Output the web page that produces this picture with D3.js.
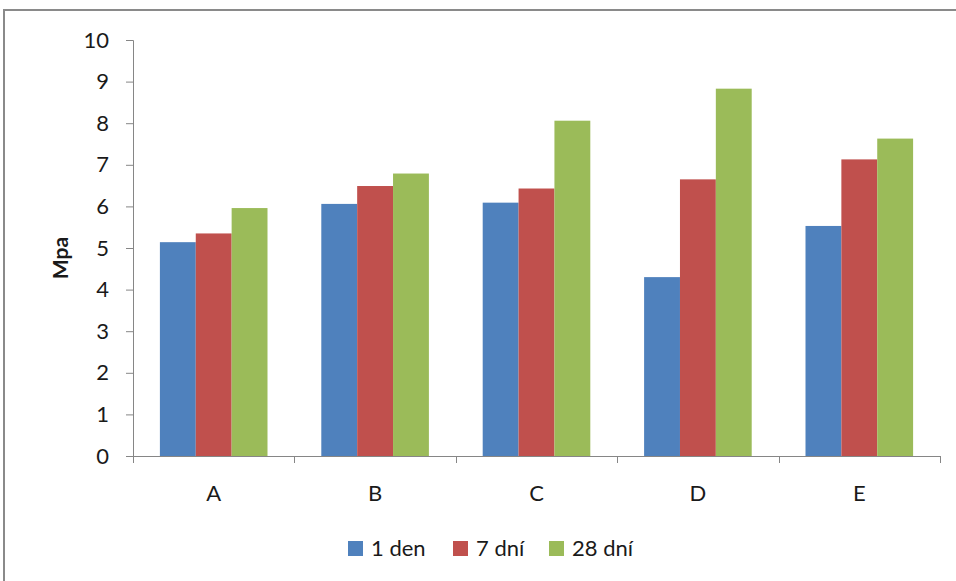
<!DOCTYPE html>
<html>
<head>
<meta charset="utf-8">
<script src="https://cdn.jsdelivr.net/npm/d3@7/dist/d3.min.js"></script>
<style>
  html, body { margin: 0; padding: 0; background: #fff; }
  svg { display: block; }
  text { font-family: Lato, "Open Sans", "Liberation Sans", sans-serif; fill: #1a1a1a; }
</style>
</head>
<body>
<svg id="chart" width="956" height="581"></svg>
<script>
// Compressive strength by mixture, measured at three ages
const categories = ["A", "B", "C", "D", "E"];
const seriesNames = ["1 den", "7 dní", "28 dní"];
const den1  = [5.14, 6.06, 6.09, 4.30, 5.53];
const dni7  = [5.35, 6.49, 6.43, 6.65, 7.13];
const dni28 = [5.96, 6.79, 8.06, 8.83, 7.63];
const yTicks = [0, 1, 2, 3, 4, 5, 6, 7, 8, 9, 10];
const colors = ["#4F81BD", "#C0504D", "#9BBB59"];

const seriesValues = [den1, dni7, dni28];
const rows = categories.map((c, i) => ({
  cat: c,
  vals: seriesNames.map((s, j) => ({ key: s, value: seriesValues[j][i], j }))
}));

const svg = d3.select("#chart");
const axisColor = "#868686";

// outer chart frame
svg.append("rect")
  .attr("x", 4).attr("y", 10)
  .attr("width", 1000).attr("height", 700)
  .attr("fill", "none").attr("stroke", "#8a8a8a").attr("stroke-width", 2);

const plot = { left: 133, right: 940, top: 40, bottom: 456 };

const y = d3.scaleLinear().domain([0, 10]).range([plot.bottom, plot.top]);
const x0 = d3.scaleBand().domain(categories).range([plot.left, plot.right]).paddingInner(0).paddingOuter(0);
const x1 = d3.scaleBand().domain(seriesNames).range([0, x0.bandwidth()]).paddingInner(0).paddingOuter(0.75);

// bars
const groups = svg.append("g").selectAll("g")
  .data(rows).join("g")
  .attr("transform", d => `translate(${x0(d.cat)},0)`);

groups.selectAll("rect")
  .data(d => d.vals).join("rect")
  .attr("x", d => x1(d.key))
  .attr("y", d => y(d.value))
  .attr("width", x1.bandwidth())
  .attr("height", d => y(0) - y(d.value))
  .attr("fill", d => colors[d.j]);

// y axis
const yAxis = svg.append("g")
  .attr("transform", `translate(${plot.left},0)`)
  .call(d3.axisLeft(y).tickValues(yTicks).tickFormat(d3.format("d")).tickSize(7).tickPadding(17));
yAxis.select(".domain").attr("stroke", axisColor);
yAxis.selectAll(".tick line").attr("stroke", axisColor);
yAxis.selectAll(".tick text").attr("font-size", 22).style("fill", "#1a1a1a");

// x axis: baseline with ticks between categories
const xg = svg.append("g");
xg.append("line")
  .attr("x1", plot.left).attr("x2", plot.right)
  .attr("y1", y(0) + 0.5).attr("y2", y(0) + 0.5)
  .attr("stroke", axisColor);
const boundaries = categories.map(c => x0(c)).concat([x0(categories[categories.length - 1]) + x0.bandwidth()]);
xg.selectAll("line.tick").data(boundaries).join("line")
  .attr("class", "tick")
  .attr("x1", d => Math.round(d) + 0.5).attr("x2", d => Math.round(d) + 0.5)
  .attr("y1", y(0)).attr("y2", y(0) + 7)
  .attr("stroke", axisColor);
xg.selectAll("text").data(categories).join("text")
  .attr("x", d => x0(d) + x0.bandwidth() / 2)
  .attr("y", 501)
  .attr("text-anchor", "middle")
  .attr("font-size", 22)
  .text(d => d);

// y axis title
svg.append("text")
  .attr("transform", `translate(68,${(plot.top + plot.bottom) / 2 + 10}) rotate(-90)`)
  .attr("text-anchor", "middle")
  .attr("font-size", 21)
  .attr("font-weight", "bold")
  .text("Mpa");

// legend
const legendX = [348, 453, 549];
const legend = svg.append("g").selectAll("g")
  .data(seriesNames).join("g")
  .attr("transform", (d, i) => `translate(${legendX[i]},541)`);
legend.append("rect")
  .attr("width", 15).attr("height", 15)
  .attr("fill", (d, i) => colors[i]);
legend.append("text")
  .attr("x", 23).attr("y", 15)
  .attr("font-size", 22)
  .text(d => d);
</script>
</body>
</html>
